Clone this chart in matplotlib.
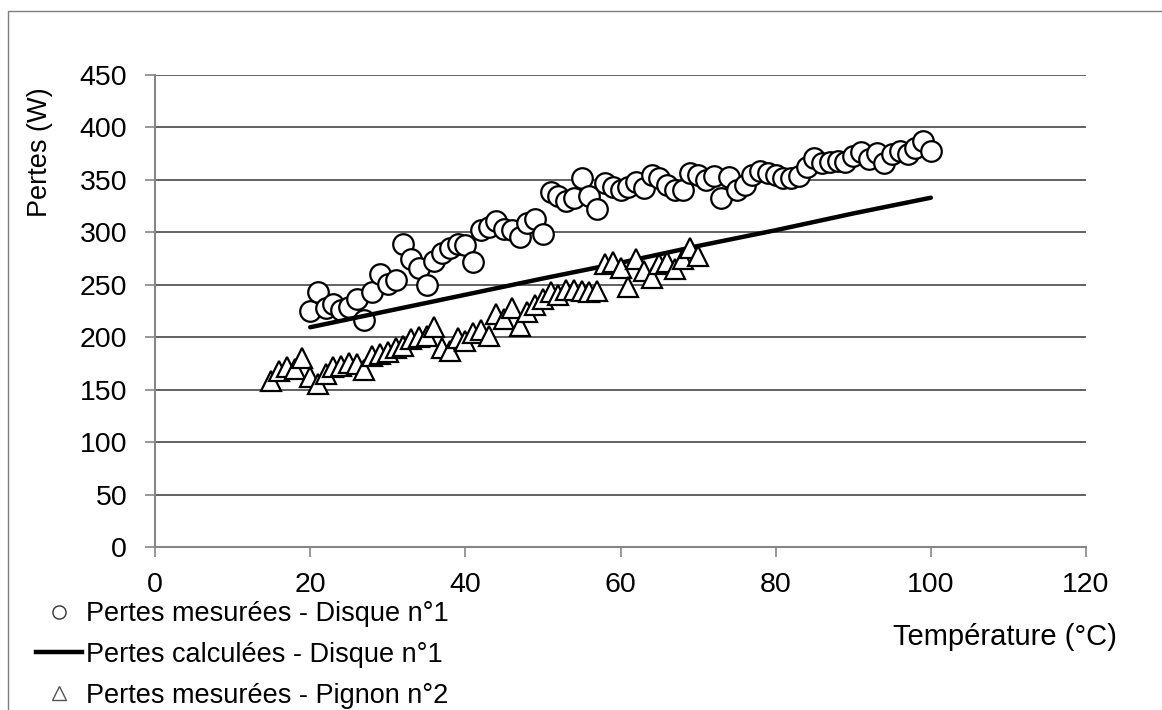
import numpy as np
import matplotlib
matplotlib.use('Agg')
import matplotlib.pyplot as plt
from matplotlib.lines import Line2D
from matplotlib.patches import Rectangle

# Measured losses - disc n°1 (circles)
disque_temp = list(range(20, 101))
disque_pertes = [225, 243, 228, 232, 226, 229, 236, 216, 243, 260,
                 251, 255, 289, 275, 266, 250, 273, 280, 285, 289,
                 288, 272, 302, 305, 311, 303, 302, 296, 309, 313,
                 298, 338, 335, 330, 333, 352, 335, 322, 347, 343,
                 340, 343, 348, 342, 355, 352, 345, 340, 340, 357,
                 355, 350, 354, 333, 353, 340, 345, 355, 358, 357,
                 355, 352, 352, 354, 362, 371, 366, 367, 368, 367,
                 373, 377, 370, 376, 366, 375, 378, 375, 380, 387,
                 378]

# Calculated losses - disc n°1 (line)
calc_temp = [20, 30, 40, 50, 60, 70, 80, 90, 100]
calc_pertes = [209.5, 225, 240.5, 256, 271, 287, 302, 318, 333]

# Measured losses - pinion n°2 (triangles)
pignon_temp = list(range(15, 71))
pignon_pertes = [158, 168, 172, 170, 180, 162, 155, 165, 172, 173,
                 175, 174, 169, 182, 184, 186, 190, 192, 198, 200,
                 201, 210, 190, 187, 199, 196, 204, 207, 201, 222,
                 217, 228, 211, 224, 231, 236, 243, 240, 245, 245,
                 244, 243, 244, 270, 272, 266, 248, 275, 263, 256,
                 270, 272, 265, 275, 285, 277]

x_ticks = [0, 20, 40, 60, 80, 100, 120]
y_ticks = [0, 50, 100, 150, 200, 250, 300, 350, 400, 450]

plt.rcParams['font.family'] = ['Liberation Sans', 'DejaVu Sans']
axis_grey = '#868686'

fig = plt.figure(figsize=(11.62, 7.10), dpi=100)
fig.patch.set_facecolor('white')
ax = fig.add_axes([155 / 1162, 1 - 547 / 710, (1086 - 155) / 1162, (547 - 75) / 710])

# outer chart frame (runs off the right and bottom edges)
fig.patches.append(Rectangle((8 / 1162, -0.1), 1.2, 0.1 + (1 - 11 / 710), transform=fig.transFigure,
                             fill=False, edgecolor='#7f7f7f', linewidth=1.0))

# horizontal grid
for y in y_ticks[1:]:
    ax.axhline(y, color='#555555', linewidth=1.3, zorder=1)

ax.plot(disque_temp, disque_pertes, linestyle='none', marker='o', markersize=14.8,
        markerfacecolor='white', markeredgecolor='black', markeredgewidth=1.6, zorder=3)
ax.plot(calc_temp, calc_pertes, color='black', linewidth=3.2, solid_capstyle='round', zorder=4)
ax.plot(pignon_temp, pignon_pertes, linestyle='none', marker='^', markersize=15,
        markerfacecolor='white', markeredgecolor='black', markeredgewidth=1.6, zorder=5)

ax.set_xlim(0, 120)
ax.set_ylim(0, 450)
ax.set_xticks(x_ticks)
ax.set_yticks(y_ticks)
ax.tick_params(axis='both', direction='out', length=7, width=1.2, color=axis_grey, labelsize=20.5)
ax.tick_params(axis='y', pad=13)
ax.tick_params(axis='x', pad=11)
for side in ['top', 'right']:
    ax.spines[side].set_visible(False)
for side in ['left', 'bottom']:
    ax.spines[side].set_color(axis_grey)
    ax.spines[side].set_linewidth(1.5)

# axis titles placed like the original
fig.text(40 / 1162, 1 - 152 / 710, 'Pertes (W)', rotation=90, fontsize=19.5, ha='center', va='center')
fig.text(1005 / 1162, 1 - 637 / 710, 'Température (°C)', fontsize=21, ha='center', va='center')

# legend below the plot on the left
handles = [
    Line2D([], [], linestyle='none', marker='o', markersize=9.5, markerfacecolor='white',
           markeredgecolor='#333333', markeredgewidth=1.0),
    Line2D([], [], color='black', linewidth=3.2),
    Line2D([], [], linestyle='none', marker='^', markersize=9.5, markerfacecolor='white',
           markeredgecolor='#555555', markeredgewidth=1.0),
]
labels = ['Pertes mesurées - Disque n°1', 'Pertes calculées - Disque n°1',
          'Pertes mesurées - Pignon n°2']
fig.legend(handles, labels, loc='upper left', bbox_to_anchor=(36 / 1162, 1 - 601 / 710),
           frameon=False, fontsize=19.5, handlelength=1.7, handletextpad=0.15,
           labelspacing=0.55, borderpad=0, borderaxespad=0)

plt.savefig('out.png', dpi=100)
plt.close(fig)
